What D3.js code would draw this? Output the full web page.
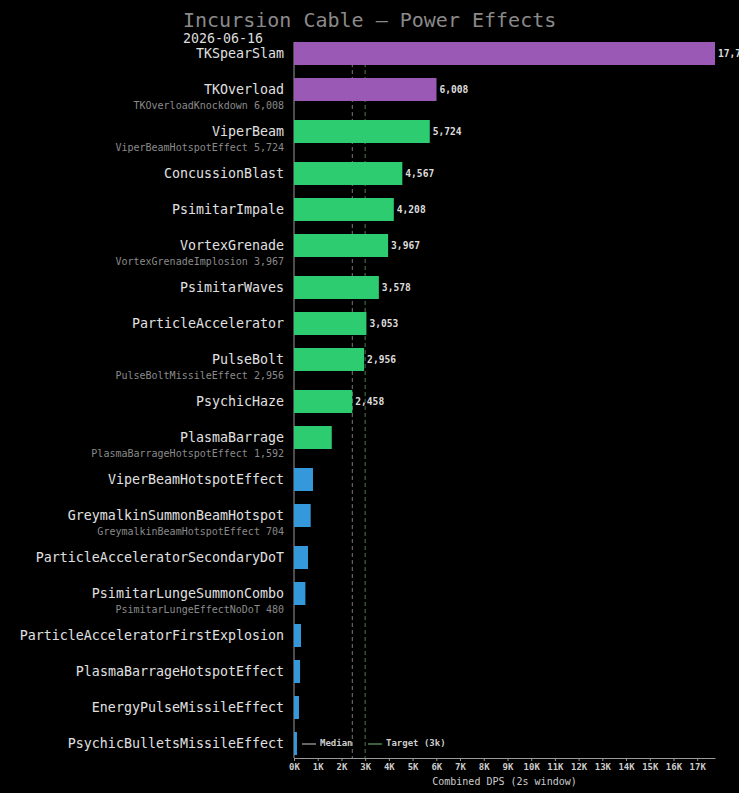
<!DOCTYPE html>
<html>
<head>
<meta charset="utf-8">
<script src="https://cdn.jsdelivr.net/npm/d3@7"></script>
<style>
  html, body { margin: 0; padding: 0; background: #000; }
  svg { display: block; font-family: "DejaVu Sans Mono", monospace; }
</style>
</head>
<body>
<svg id="chart" width="739" height="793"></svg>
<script>
const powers = [
  "TKSpearSlam", "TKOverload", "ViperBeam", "ConcussionBlast", "PsimitarImpale",
  "VortexGrenade", "PsimitarWaves", "ParticleAccelerator", "PulseBolt", "PsychicHaze",
  "PlasmaBarrage", "ViperBeamHotspotEffect", "GreymalkinSummonBeamHotspot",
  "ParticleAcceleratorSecondaryDoT", "PsimitarLungeSummonCombo",
  "ParticleAcceleratorFirstExplosion", "PlasmaBarrageHotspotEffect",
  "EnergyPulseMissileEffect", "PsychicBulletsMissileEffect"
];
const dps = [17750, 6008, 5724, 4567, 4208, 3967, 3578, 3053, 2956, 2458,
  1592, 800, 704, 590, 480, 295, 255, 210, 125];
const kinds = ["tk", "tk", "power", "power", "power", "power", "power", "power", "power", "power",
  "power", "effect", "effect", "effect", "effect", "effect", "effect", "effect", "effect"];
const subNames = ["", "TKOverloadKnockdown", "ViperBeamHotspotEffect", "", "", "VortexGrenadeImplosion",
  "", "", "PulseBoltMissileEffect", "", "PlasmaBarrageHotspotEffect", "", "GreymalkinBeamHotspotEffect",
  "", "PsimitarLungeEffectNoDoT", "", "", "", ""];
const subValues = [0, 6008, 5724, 0, 0, 3967, 0, 0, 2956, 0, 1592, 0, 704, 0, 480, 0, 0, 0, 0];
const xTicks = d3.range(0, 18000, 1000);
const medianDps = 2458;
const targetDps = 3000;

const title = "Incursion Cable \u2014 Power Effects";
const dateLabel = "2026-06-16";

const colors = { tk: "#9b59b6", power: "#2ecc71", effect: "#3498db" };
const fmt = d3.format(",");

const svg = d3.select("#chart");
const plotLeft = 294, plotRight = 715, plotTop = 42, axisY = 758;

// rows: 6 units, plus 1 unit when there is a sub-effect line
const units = powers.map((p, i) => 6 + (subNames[i] ? 1 : 0));
const starts = units.map((u, i) => d3.sum(units.slice(0, i)));
const total = d3.sum(units);

const x = d3.scaleLinear().domain([0, d3.max(dps)]).range([plotLeft, plotRight]);
const y = d3.scaleLinear().domain([0, total]).range([plotTop, plotTop + total * 6]);
const barH = 23;

svg.append("text")
  .attr("x", 183).attr("y", 27)
  .attr("fill", "#8a8a8a").attr("font-size", 20)
  .text(title);
svg.append("text")
  .attr("x", 183).attr("y", 43)
  .attr("fill", "#dddddd").attr("font-size", 13.3)
  .text(dateLabel);

// reference lines (behind bars)
svg.append("line")
  .attr("x1", x(medianDps)).attr("x2", x(medianDps))
  .attr("y1", plotTop).attr("y2", axisY)
  .attr("stroke", "#777").attr("stroke-dasharray", "4,3");
svg.append("line")
  .attr("x1", x(targetDps)).attr("x2", x(targetDps))
  .attr("y1", plotTop).attr("y2", axisY)
  .attr("stroke", "#4f7a4f").attr("stroke-dasharray", "4,3");

// left axis line
svg.append("line")
  .attr("x1", plotLeft).attr("x2", plotLeft)
  .attr("y1", plotTop).attr("y2", axisY)
  .attr("stroke", "#999");

const rows = svg.append("g").selectAll("g")
  .data(powers)
  .join("g");

rows.append("rect")
  .attr("x", plotLeft)
  .attr("y", (d, i) => y(starts[i]))
  .attr("width", (d, i) => x(dps[i]) - plotLeft)
  .attr("height", barH)
  .attr("fill", (d, i) => colors[kinds[i]]);

rows.append("text")
  .attr("x", 284)
  .attr("y", (d, i) => y(starts[i]) + barH / 2)
  .attr("dy", "0.35em")
  .attr("text-anchor", "end")
  .attr("fill", "#e0e0e0")
  .attr("font-size", 13.3)
  .text(d => d);

rows.filter((d, i) => subNames[i])
  .append("text")
  .attr("x", 284)
  .attr("y", d => { const i = powers.indexOf(d); return y(starts[i]) + barH + 4; })
  .attr("dy", "0.35em")
  .attr("text-anchor", "end")
  .attr("fill", "#8a8a8a")
  .attr("font-size", 10)
  .text(d => { const i = powers.indexOf(d); return subNames[i] + " " + fmt(subValues[i]); });

rows.filter((d, i) => dps[i] >= 2000)
  .append("text")
  .attr("x", d => x(dps[powers.indexOf(d)]) + 3)
  .attr("y", d => y(starts[powers.indexOf(d)]) + barH / 2)
  .attr("dy", "0.35em")
  .attr("fill", "#dddddd")
  .attr("font-size", 9.6)
  .attr("font-weight", "bold")
  .text(d => fmt(dps[powers.indexOf(d)]));

// x axis
const xAxis = svg.append("g")
  .attr("transform", `translate(0, ${axisY})`)
  .call(d3.axisBottom(x).tickValues(xTicks).tickFormat(d => d / 1000 + "K").tickSize(3).tickSizeOuter(0));
xAxis.select(".domain").attr("stroke", "#999");
xAxis.selectAll(".tick line").attr("stroke", "#999");
xAxis.selectAll(".tick text")
  .attr("fill", "#cccccc")
  .attr("font-size", 9)
  .attr("font-weight", "bold")
  .attr("font-family", "DejaVu Sans Mono, monospace");

svg.append("text")
  .attr("x", (plotLeft + plotRight) / 2).attr("y", 785)
  .attr("text-anchor", "middle")
  .attr("fill", "#cccccc").attr("font-size", 10)
  .text("Combined DPS (2s window)");

// legend
const legend = [
  { label: "Median", color: "#666", x: 302 },
  { label: "Target (3k)", color: "#3f603f", x: 368 }
];
const lg = svg.append("g").selectAll("g").data(legend).join("g");
lg.append("line")
  .attr("x1", d => d.x).attr("x2", d => d.x + 14)
  .attr("y1", 744).attr("y2", 744)
  .attr("stroke", d => d.color).attr("stroke-width", 2);
lg.append("text")
  .attr("x", d => d.x + 18).attr("y", 743)
  .attr("dy", "0.35em")
  .attr("fill", "#cccccc").attr("font-size", 9)
  .attr("font-weight", "bold")
  .text(d => d.label);
</script>
</body>
</html>
